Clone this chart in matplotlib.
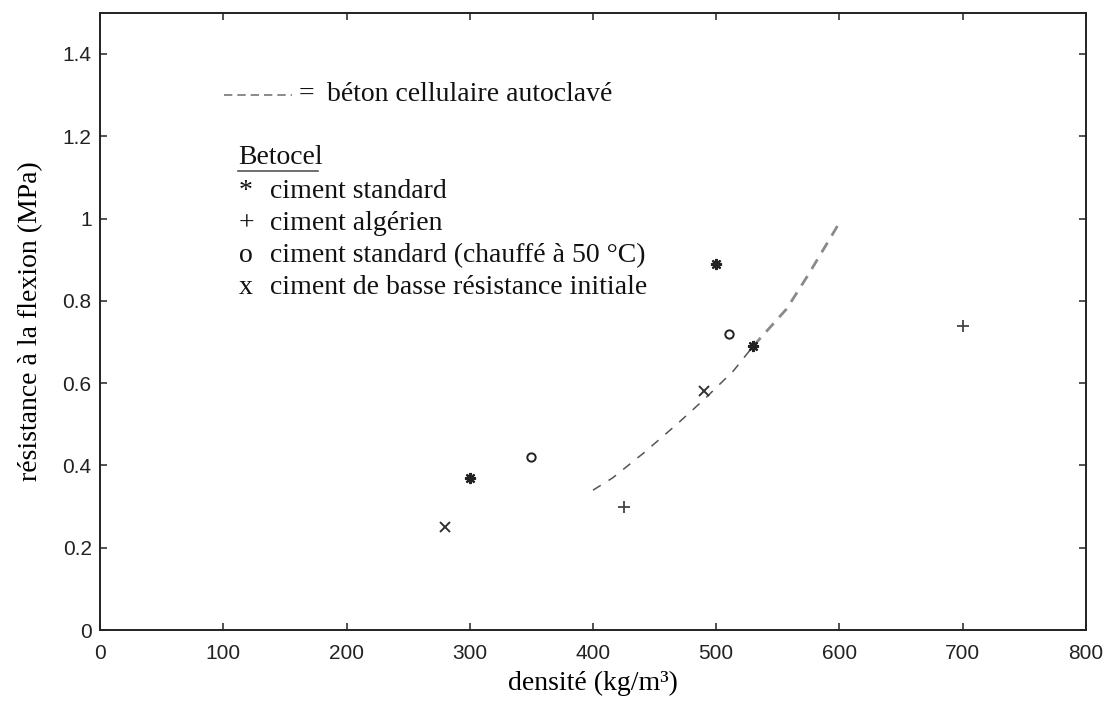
import matplotlib
matplotlib.use("Agg")
import matplotlib.pyplot as plt
from matplotlib.lines import Line2D

# Betocel samples: density (kg/m3) vs flexural strength (MPa)
std_x = [300, 500, 530]
std_y = [0.37, 0.89, 0.69]
alg_x = [425, 700]
alg_y = [0.30, 0.74]
heat_x = [350, 510]
heat_y = [0.42, 0.72]
low_x = [280, 490]
low_y = [0.25, 0.58]

# autoclaved aerated concrete curve
aac_x = [400, 416, 441, 468, 490, 514, 530, 557, 574, 590, 600]
aac_y = [0.34, 0.37, 0.43, 0.50, 0.56, 0.63, 0.69, 0.78, 0.86, 0.94, 0.99]

xticks = [0, 100, 200, 300, 400, 500, 600, 700, 800]
yticks = [0, 0.2, 0.4, 0.6, 0.8, 1.0, 1.2, 1.4]
ylabels = ["0", "0.2", "0.4", "0.6", "0.8", "1", "1.2", "1.4"]

legend_rows = [
    ("*", "ciment standard"),
    ("+", "ciment algérien"),
    ("o", "ciment standard (chauffé à 50 °C)"),
    ("x", "ciment de basse résistance initiale"),
]

SERIF = "Liberation Serif"
SANS = "Liberation Sans"
FS = 20

fig = plt.figure(figsize=(11.14, 7.08), dpi=100)
ax = fig.add_axes([0.0898, 0.110, 0.885, 0.872])

# curve: lower part thin dark, upper part thicker & lighter (as scanned)
ax.plot(aac_x[:7], aac_y[:7], color="#555555", lw=1.1, ls=(0, (6, 6)))
ax.plot(aac_x[6:], aac_y[6:], color="#8a8a8a", lw=2.0, ls=(0, (4, 3)))

ax.plot(std_x, std_y, ls="none", marker=(8, 2, 0), ms=8, mew=1.6, color="#222222")
ax.plot(alg_x, alg_y, ls="none", marker="+", ms=8, mew=1.3, color="#444444")
ax.plot(heat_x, heat_y, ls="none", marker="o", ms=6, mew=1.4, mfc="none", color="#222222")
ax.plot(low_x, low_y, ls="none", marker="x", ms=7, mew=1.4, color="#333333")

ax.set_xlim(0, 800)
ax.set_ylim(0, 1.5)
ax.set_xticks(xticks)
ax.set_xticklabels([str(t) for t in xticks], fontfamily=SANS, fontsize=15, color="#222222")
ax.set_yticks(yticks)
ax.set_yticklabels(ylabels, fontfamily=SANS, fontsize=15, color="#222222")
ax.tick_params(direction="in", length=5, width=1.2, top=True, right=True, color="#333333")
ax.tick_params(axis="x", pad=10)
ax.tick_params(axis="y", pad=6)
for s in ax.spines.values():
    s.set_linewidth(1.4)
    s.set_color("#222222")

ax.set_xlabel("densité (kg/m³)", fontfamily=SERIF, fontsize=FS, labelpad=6)
ax.set_ylabel("résistance à la flexion (MPa)", fontfamily=SERIF, fontsize=FS, labelpad=14)

# hand-drawn legend, axes fractions from pixel positions
def fx(px):
    return (px - 100) / 986

def fy(py):
    return (630 - py) / 617

ax.add_line(Line2D([fx(224), fx(292)], [fy(95), fy(95)], transform=ax.transAxes,
                   color="#777777", lw=1.2, ls=(0, (5, 3))))
ax.text(fx(306), fy(95), "=", transform=ax.transAxes, fontfamily=SERIF, fontsize=FS,
        va="center", ha="center", color="#111111")
ax.text(fx(327), fy(95), "béton cellulaire autoclavé", transform=ax.transAxes,
        fontfamily=SERIF, fontsize=FS, va="center", ha="left", color="#111111")

ax.text(fx(238), fy(158), "Betocel", transform=ax.transAxes, fontfamily=SERIF,
        fontsize=FS, va="center", ha="left", color="#111111")
ax.add_line(Line2D([fx(238), fx(318)], [fy(171), fy(171)], transform=ax.transAxes,
                   color="#555555", lw=1.2))

for i, (sym, lab) in enumerate(legend_rows):
    yy = fy(192 + 32 * i)
    ax.text(fx(246), yy, sym, transform=ax.transAxes, fontfamily=SERIF, fontsize=FS,
            va="center", ha="center", color="#111111")
    ax.text(fx(270), yy, lab, transform=ax.transAxes, fontfamily=SERIF, fontsize=FS,
            va="center", ha="left", color="#111111")

fig.savefig("out.png", dpi=100)
plt.close(fig)
